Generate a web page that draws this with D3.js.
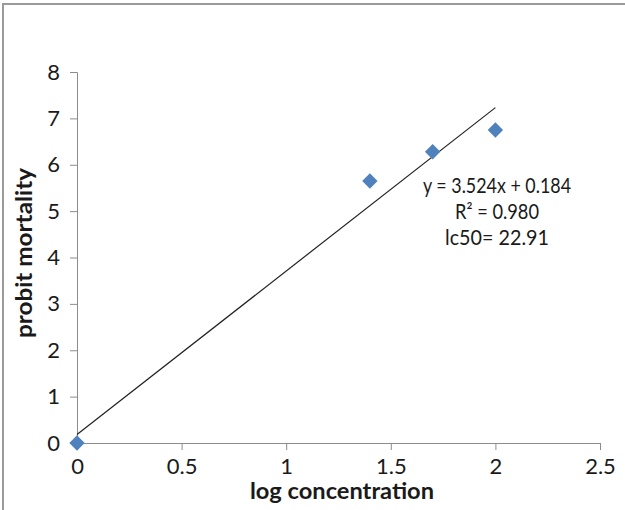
<!DOCTYPE html>
<html><head><meta charset="utf-8">
<script src="https://cdn.jsdelivr.net/npm/d3@7"></script>
<style>body{margin:0;background:#fff}svg{display:block}</style>
</head><body>
<script>
const xValues = [0, 1.4, 1.7, 2.0];
const yValues = [0, 5.65, 6.28, 6.75];
const slope = 3.524, intercept = 0.184;
const trendRange = [0, 2];
const xTicks = [0, 0.5, 1, 1.5, 2, 2.5];
const yTicks = [0, 1, 2, 3, 4, 5, 6, 7, 8];
const annotation = ["y = 3.524x + 0.184", "R² = 0.980", "lc50= 22.91"];
const annotationWidths = [148, 84, 104];
const xTitle = "log concentration", yTitle = "probit mortality";

const W = 625, H = 510;
const svg = d3.select("body").append("svg").attr("width", W).attr("height", H);
const font = "Lato, 'Open Sans', sans-serif";

// outer frame (top + left visible)
svg.append("path").attr("d", `M3,${H} L3,4 L${W},4`).attr("fill","none").attr("stroke","#9a9a9a").attr("stroke-width",2);

const x = d3.scaleLinear().domain([0, 2.5]).range([77, 600]);
const y = d3.scaleLinear().domain([0, 8]).range([443, 72]);

const axisColor = "#8c8c8c";
const gx = svg.append("g").attr("transform", `translate(0,${y(0)})`)
  .call(d3.axisBottom(x).tickValues(xTicks).tickFormat(d => String(d)).tickSize(7).tickPadding(8));
const gy = svg.append("g").attr("transform", `translate(${x(0)},0)`)
  .call(d3.axisLeft(y).tickValues(yTicks).tickFormat(d => String(d)).tickSize(7).tickPadding(10));
[gx, gy].forEach(g => {
  g.select(".domain").attr("stroke", axisColor);
  g.selectAll(".tick line").attr("stroke", axisColor);
  g.selectAll("text").attr("font-family", font).attr("font-size", 22).attr("fill", "#1a1a1a");
});

// trendline
svg.append("line")
  .attr("x1", x(trendRange[0])).attr("y1", y(slope*trendRange[0]+intercept))
  .attr("x2", x(trendRange[1])).attr("y2", y(slope*trendRange[1]+intercept))
  .attr("stroke", "#222").attr("stroke-width", 1.2);

// points
const pts = xValues.map((v,i)=>({x:v,y:yValues[i]}));
svg.selectAll("path.pt").data(pts).enter().append("path").attr("class","pt")
  .attr("d", d3.symbol().type(d3.symbolDiamond2).size(150)())
  .attr("transform", d => `translate(${x(d.x)},${y(d.y)})`)
  .attr("fill", "#4f81bd");

// annotation
svg.append("g").selectAll("text").data(annotation).enter().append("text")
  .attr("x", 497).attr("y", (d,i)=>193 + i*26)
  .attr("text-anchor","middle").attr("font-family", font).attr("font-size", 21).attr("fill","#1a1a1a")
  .attr("textLength", (d,i)=>annotationWidths[i]).attr("lengthAdjust","spacingAndGlyphs")
  .text(d=>d);

// axis titles
svg.append("text").attr("x", 342).attr("y", 499).attr("text-anchor","middle")
  .attr("font-family", font).attr("font-weight","bold").attr("font-size",23).attr("fill","#1a1a1a")
  .attr("textLength", 184).attr("lengthAdjust","spacingAndGlyphs").text(xTitle);
svg.append("text").attr("transform", `translate(32,253) rotate(-90)`).attr("text-anchor","middle")
  .attr("font-family", font).attr("font-weight","bold").attr("font-size",23).attr("fill","#1a1a1a")
  .attr("textLength", 170).attr("lengthAdjust","spacingAndGlyphs").text(yTitle);
</script>
</body></html>
